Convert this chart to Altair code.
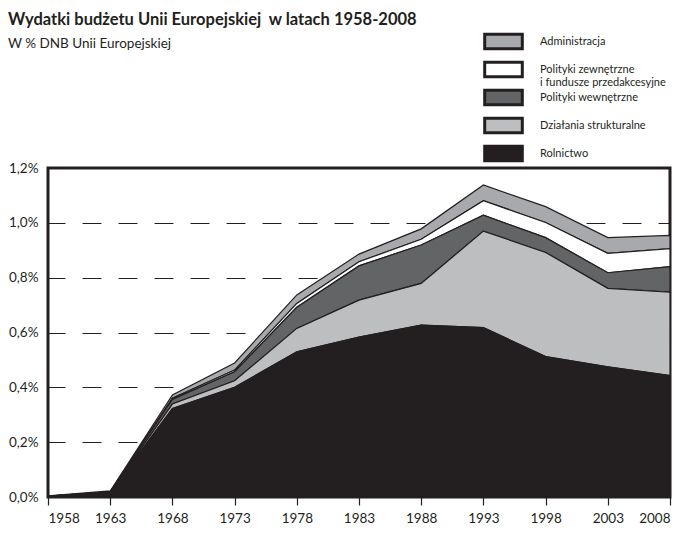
import altair as alt
import pandas as pd

# --- data (% of EU GNI) ---
years = [1958, 1963, 1968, 1973, 1978, 1983, 1988, 1993, 1998, 2003, 2008]
rolnictwo = [0.003, 0.017, 0.323, 0.400, 0.530, 0.583, 0.627, 0.618, 0.512, 0.475, 0.443]
strukturalne = [0.000, 0.001, 0.016, 0.024, 0.085, 0.135, 0.152, 0.352, 0.380, 0.286, 0.304]
wewnetrzne = [0.000, 0.001, 0.017, 0.033, 0.077, 0.125, 0.140, 0.058, 0.054, 0.057, 0.093]
zewnetrzne = [0.000, 0.000, 0.004, 0.006, 0.014, 0.015, 0.021, 0.053, 0.055, 0.071, 0.066]
administracja = [0.001, 0.003, 0.012, 0.026, 0.031, 0.028, 0.038, 0.057, 0.058, 0.057, 0.048]

x_ticks = [1958, 1963, 1968, 1973, 1978, 1983, 1988, 1993, 1998, 2003, 2008]
y_ticks = [0.0, 0.2, 0.4, 0.6, 0.8, 1.0, 1.2]

# legend order (top to bottom) and colours
categories = [
    "Administracja",
    "Polityki zewnętrzne|i fundusze przedakcesyjne",
    "Polityki wewnętrzne",
    "Działania strukturalne",
    "Rolnictwo",
]
colors = ["#a7a9ac", "#ffffff", "#636466", "#bcbec0", "#231f20"]
series = [administracja, zewnetrzne, wewnetrzne, strukturalne, rolnictwo]
stack_pos = [4, 3, 2, 1, 0]  # Rolnictwo at the bottom

title_text = "Wydatki budżetu Unii Europejskiej\u00a0 w latach 1958-2008"
subtitle_text = "W % DNB Unii Europejskiej"

rows = []
for cat, vals, pos in zip(categories, series, stack_pos):
    for yr, v in zip(years, vals):
        rows.append({"rok": yr, "wartosc": v, "kategoria": cat, "kolejnosc": pos})
df = pd.DataFrame(rows)

FONT = "Lato"
INK = "#231f20"

areas = alt.Chart(df).mark_area(
    stroke=INK, strokeWidth=1.2, interpolate="linear"
).encode(
    x=alt.X(
        "rok:Q",
        scale=alt.Scale(domain=[1958, 2008], nice=False, zero=False),
        axis=alt.Axis(
            values=x_ticks, format="d", title=None, grid=False, domain=False,
            ticks=True, tickSize=8, tickColor=INK, tickWidth=1.2,
            labelPadding=6, labelFont=FONT, labelFontSize=13.5, labelColor=INK,
        ),
    ),
    y=alt.Y(
        "wartosc:Q",
        stack="zero",
        scale=alt.Scale(domain=[0, 1.2], nice=False),
        axis=alt.Axis(
            values=y_ticks, title=None, domain=False, ticks=False,
            grid=True, gridColor=INK, gridWidth=1, gridDash=[19, 17], gridDashOffset=2,
            labelExpr="replace(format(datum.value, '.1f'), '.', ',') + '%'",
            labelPadding=10, labelFont=FONT, labelFontSize=13.5, labelColor=INK,
        ),
    ),
    color=alt.Color(
        "kategoria:N",
        scale=alt.Scale(domain=categories, range=colors),
        legend=alt.Legend(
            title=None, orient="none", legendX=446, legendY=-136, padding=0,
            symbolType="M-2.35,-0.92H2.35V0.92H-2.35Z", symbolSize=256,
            symbolStrokeColor=INK, symbolStrokeWidth=3, symbolOpacity=1,
            labelExpr="split(datum.label, '|')",
            labelFont=FONT, labelFontSize=11, labelColor=INK, labelOffset=27,
            labelLimit=300, rowPadding=-7, gridAlign="all",
        ),
    ),
    order=alt.Order("kolejnosc:Q", sort="ascending"),
)

title = alt.Chart(pd.DataFrame({"t": [title_text]})).mark_text(
    align="left", baseline="alphabetic", font=FONT, fontSize=16.5, fontWeight="bold", color=INK
).encode(text="t:N", x=alt.value(-40), y=alt.value(-143))

subtitle = alt.Chart(pd.DataFrame({"t": [subtitle_text]})).mark_text(
    align="left", baseline="alphabetic", font=FONT, fontSize=13.5, color=INK
).encode(text="t:N", x=alt.value(-40), y=alt.value(-120))

chart = alt.layer(areas, title, subtitle).properties(
    width=622,
    height=329,
    padding={"left": 40, "top": 160, "right": 17, "bottom": 43},
    autosize=alt.AutoSizeParams(type="none"),
).configure_view(stroke=INK, strokeWidth=3)

chart.save("out.html", embed_options={"renderer": "svg", "actions": False})
